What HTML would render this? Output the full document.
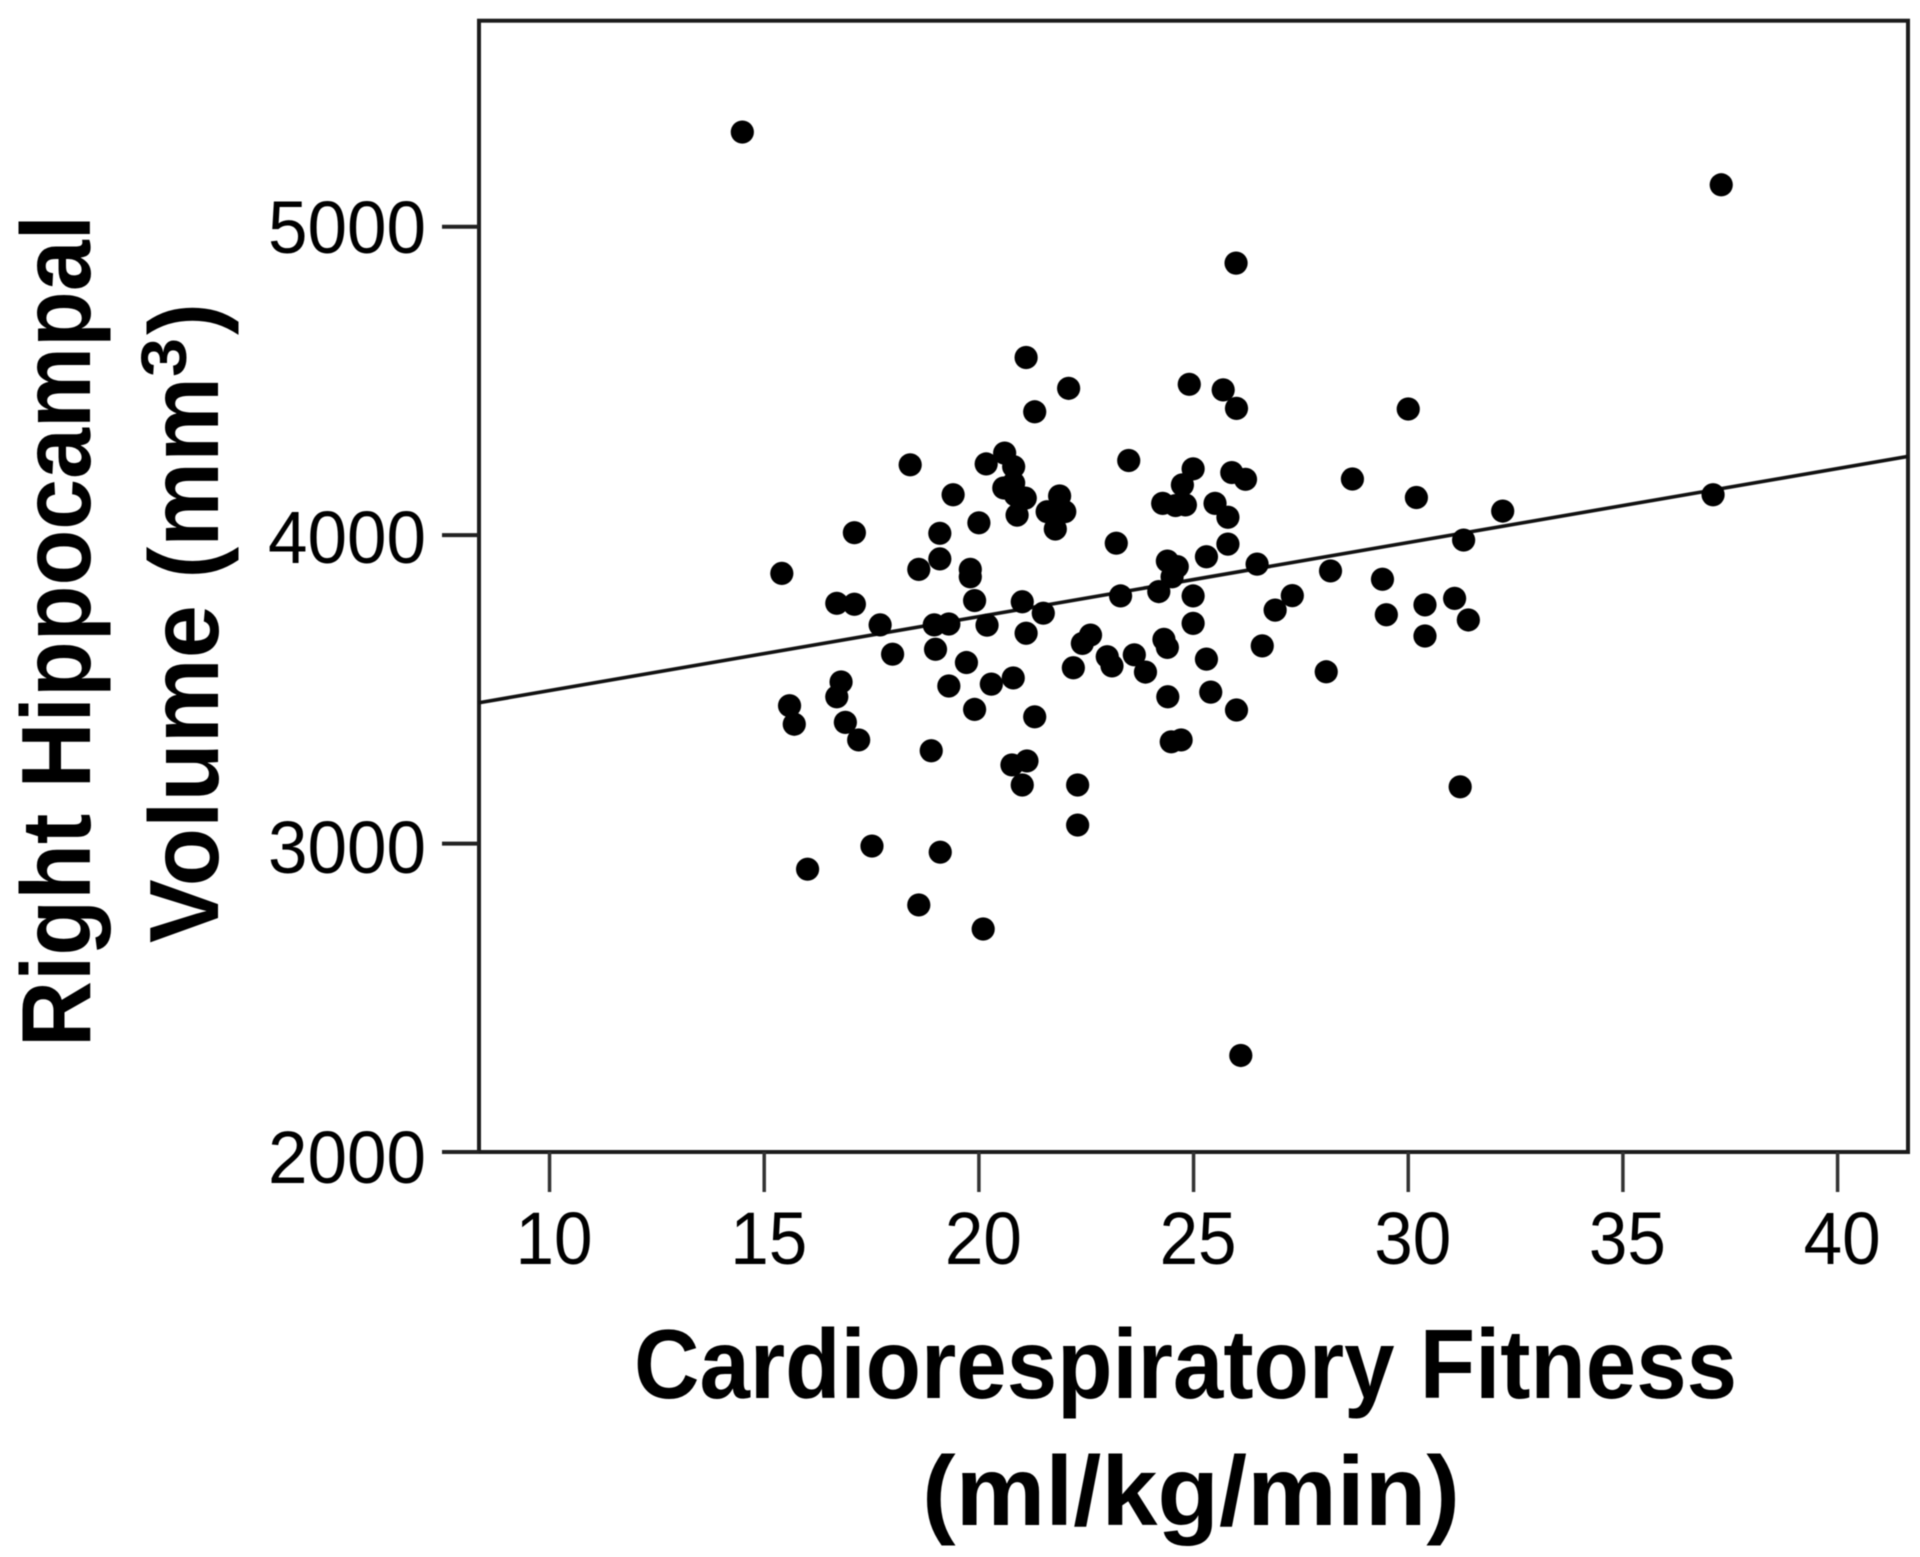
<!DOCTYPE html>
<html lang="en">
<head>
<meta charset="utf-8">
<title>Right Hippocampal Volume vs Cardiorespiratory Fitness</title>
<style>
html,body{margin:0;padding:0;background:#fff;width:1920px;height:1557px;overflow:hidden}
svg{display:block;filter:blur(0.6px)}
text{font-family:"Liberation Sans",sans-serif;fill:#000}
.tick-label{font-size:74px}
.axis-title{font-size:98px;font-weight:bold}
</style>
</head>
<body>
<svg id="chart" xmlns="http://www.w3.org/2000/svg" width="1920" height="1557" viewBox="0 0 1920 1557">
  <rect x="0" y="0" width="1920" height="1557" fill="#fff"/>
  <text class="axis-title" x="634" y="1398" textLength="1103" lengthAdjust="spacingAndGlyphs">Cardiorespiratory Fitness</text>
  <text class="axis-title" x="922" y="1525" textLength="538" lengthAdjust="spacingAndGlyphs">(ml/kg/min)</text>
  <text class="axis-title" transform="translate(90 1047) rotate(-90)" textLength="832" lengthAdjust="spacingAndGlyphs">Right Hippocampal</text>
  <text class="axis-title" transform="translate(218 943) rotate(-90)" textLength="566" lengthAdjust="spacingAndGlyphs">Volume (mm</text>
  <text transform="translate(186 377) rotate(-90)" font-size="64" font-weight="bold" textLength="39" lengthAdjust="spacingAndGlyphs">3</text>
  <text class="axis-title" transform="translate(218 335) rotate(-90)" textLength="32" lengthAdjust="spacingAndGlyphs">)</text>
  <g id="plot"></g>
</svg>
<script>
const xTicks = [10, 15, 20, 25, 30, 35, 40];
const yTicks = [2000, 3000, 4000, 5000];
const xDomain = [8.357, 41.64];
const yDomain = [2000, 5668];
const fitSlope = 24;
const fitIntercept = 3256;
const fitnessValues = [14.49,37.29,25.99,26.10,37.10,21.10,22.09,21.30,18.40,20.17,20.60,20.81,23.49,19.40,20.81,20.58,21.08,21.88,21.59,22.00,20.89,21.78,20.00,17.10,19.09,23.20,15.41,19.09,18.60,19.80,19.80,19.90,16.69,17.10,21.01,23.30,21.50,17.70,18.96,19.30,20.19,21.10,22.41,22.60,17.99,18.99,19.71,22.99,23.10,23.62,22.20,16.79,19.30,20.29,20.80,16.69,15.59,15.70,16.89,17.20,19.90,21.30,18.89,21.12,20.77,21.01,22.30,22.30,17.51,19.10,16.01,18.60,20.10,24.90,25.69,26.00,30.00,24.99,25.89,26.21,28.70,24.74,30.19,24.28,24.81,24.58,25.50,25.80,32.20,25.80,25.30,24.39,24.62,24.50,26.48,28.19,31.29,24.19,29.40,24.99,24.99,27.30,26.90,29.49,30.39,31.08,31.40,30.39,26.60,24.31,24.39,25.30,23.88,28.09,24.40,25.40,26.00,24.48,24.71,31.21,20.85,21.78];
const volumeValues = [5307,5136,4882,2313,4131,4576,4476,4400,4228,4231,4266,4222,4242,4131,4169,4153,4120,4127,4076,4076,4065,4020,4040,4008,4006,3974,3876,3923,3889,3889,3865,3788,3779,3776,3784,3803,3747,3709,3709,3712,3708,3682,3649,3676,3614,3630,3587,3606,3576,3612,3570,3524,3511,3517,3537,3476,3447,3387,3393,3336,3435,3411,3301,3268,3255,3190,3190,3060,2992,2972,2917,2801,2723,4489,4471,4411,4409,4215,4203,4181,4182,4163,4122,4103,4098,4096,4103,4058,4078,3971,3930,3916,3898,3865,3906,3884,3984,3817,3857,3803,3714,3804,3757,3742,3774,3795,3725,3673,3641,3662,3636,3598,3556,3557,3476,3491,3433,3330,3336,3184,4130,4070];

const NS = 'http://www.w3.org/2000/svg';
const plot = document.getElementById('plot');
const left = 479, right = 1908, top_ = 20.7, bottom = 1152;
function xScale(v) { return left + (v - xDomain[0]) / (xDomain[1] - xDomain[0]) * (right - left); }
function yScale(v) { return bottom - (v - yDomain[0]) / (yDomain[1] - yDomain[0]) * (bottom - top_); }
function yLabelBaseline(t) { return yScale(t) + 31 - (t - yDomain[0]) * 0.0016; }
function make(tag, attrs) {
  const el = document.createElementNS(NS, tag);
  for (const k in attrs) el.setAttribute(k, attrs[k]);
  plot.appendChild(el);
  return el;
}

const frame = make('rect', {x: left, y: top_, width: right - left, height: bottom - top_, fill: 'none', stroke: '#1c1c1c', 'stroke-width': 4});



xTicks.forEach(function (t) {
  const mark = make('line', {x1: xScale(t), x2: xScale(t), y1: bottom, y2: bottom + 40, stroke: '#333', 'stroke-width': 3.5});
  
  
  const label = make('text', {class: 'tick-label', x: xScale(t) + 4.5, y: bottom + 112, 'text-anchor': 'middle', textLength: String(t).length * 38.5, lengthAdjust: 'spacingAndGlyphs'});
  label.textContent = t;
  
  
});

yTicks.forEach(function (t) {
  const mark = make('line', {x1: left - 37, x2: left, y1: yScale(t), y2: yScale(t), stroke: '#222', 'stroke-width': 4});
  
  
  const label = make('text', {class: 'tick-label', x: 268, y: yLabelBaseline(t), textLength: String(t).length * 39.5, lengthAdjust: 'spacingAndGlyphs'});
  label.textContent = t;
  
  
});

const fit = make('line', {
  x1: xScale(xDomain[0]), y1: yScale(fitIntercept + fitSlope * xDomain[0]),
  x2: xScale(xDomain[1]), y2: yScale(fitIntercept + fitSlope * xDomain[1]),
  stroke: '#111', 'stroke-width': 3.6
});



fitnessValues.forEach(function (x, i) {
  const dot = make('circle', {cx: xScale(x), cy: yScale(volumeValues[i]), r: 11.6, fill: '#000'});
  
  
});
</script>
</body>
</html>
